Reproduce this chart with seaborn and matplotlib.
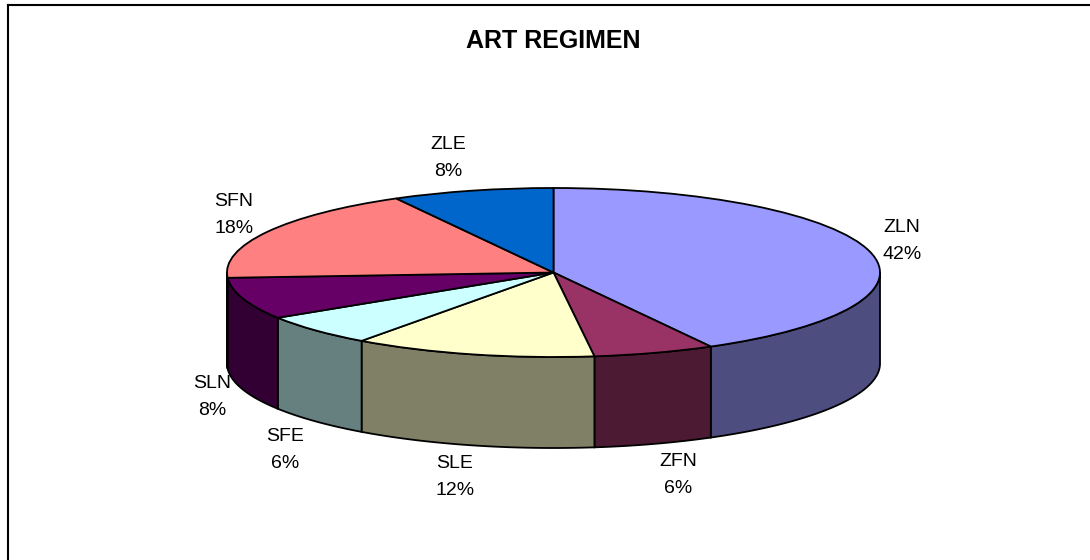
import numpy as np
import matplotlib
matplotlib.use('Agg')
import matplotlib.pyplot as plt
import seaborn as sns

regimens = ['ZLN', 'ZFN', 'SLE', 'SFE', 'SLN', 'SFN', 'ZLE']
shares = [42, 6, 12, 6, 8, 18, 8]
top_colors = ['#9999FF', '#993366', '#FFFFCC', '#CCFFFF', '#660066', '#FF8080', '#0066CC']
title = 'ART REGIMEN'

# label centres in pixels of the picture
label_x = [902, 678, 455, 285, 212, 234, 448]
label_y = [241, 475, 477, 450, 397, 215, 158]

W, H = 1090, 560
cx, cy = 553.5, 272.5
rx, ry = 326.5, 84.5
depth = 91 / ry
frame_x, frame_y = 7.5, 4.5

sns.set_theme(style='white')
plt.rcParams['font.family'] = ['Liberation Sans', 'DejaVu Sans']

palette = sns.color_palette(top_colors)
side_colors = [tuple(c * 0.5 for c in col) for col in palette]

fig = plt.figure(figsize=(W / 100, H / 100), dpi=100)
ax = fig.add_axes([frame_x / W, 0, 1 - frame_x / W, 1 - frame_y / H])

# top of the pie, the ellipse comes from the axis limits
wedges, _ = ax.pie(shares, colors=palette, startangle=90, counterclock=False,
                   wedgeprops={'edgecolor': 'black', 'linewidth': 1.3, 'zorder': 3})

# side walls, only the front half of the pie shows
ends = np.cumsum(shares) / sum(shares) * 360
starts = np.concatenate([[0], ends[:-1]])
for start, end, col in zip(starts, ends, side_colors):
    a = max(start, 90)
    b = min(end, 270)
    if a >= b:
        continue
    t = np.radians(np.linspace(a, b, 80))
    xs = np.sin(t)
    ys = np.cos(t)
    ax.fill(np.concatenate([xs, xs[::-1]]),
            np.concatenate([ys, ys[::-1] - depth]),
            facecolor=col, edgecolor='black', linewidth=1.3, zorder=2)

ax.set_aspect('auto')
ax.set_xlim((frame_x - cx) / rx, (W - cx) / rx)
ax.set_ylim((cy - H) / ry, (cy - frame_y) / ry)
ax.set_frame_on(True)
sns.despine(ax=ax, top=False, left=False, right=True, bottom=True)
for side in ['top', 'left']:
    ax.spines[side].set_color('black')
    ax.spines[side].set_linewidth(1.5)

fig.text(cx / W, 1 - 40.5 / H, title, fontsize=18, fontweight='bold',
         ha='center', va='center', color='black')
for name, share, x, y in zip(regimens, shares, label_x, label_y):
    fig.text(x / W, 1 - y / H, f'{name}\n{share}%', fontsize=14,
             ha='center', va='center', linespacing=1.8, color='black')

fig.savefig('out.png', dpi=100)
